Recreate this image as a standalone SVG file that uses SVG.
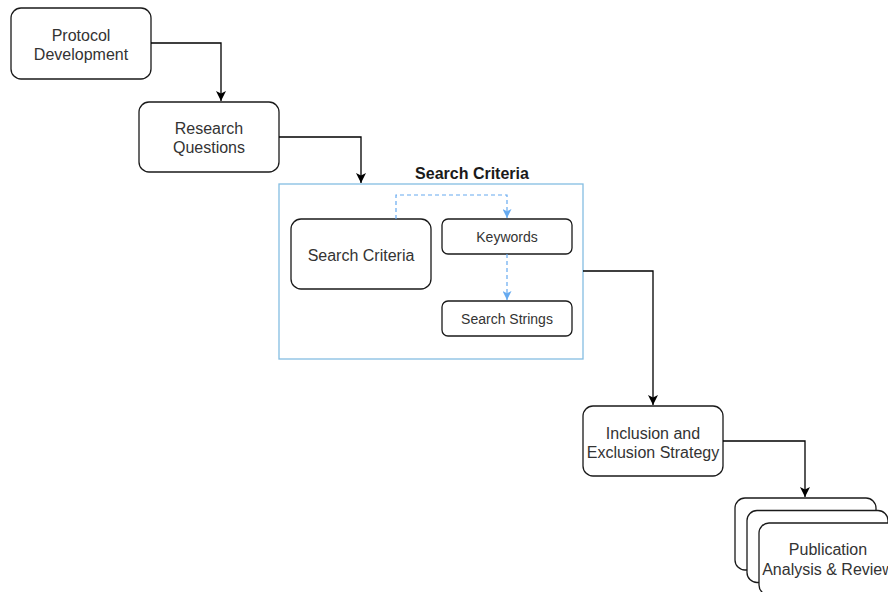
<svg xmlns="http://www.w3.org/2000/svg" width="888" height="592" viewBox="0 0 888 592">
  <style>
    .box { fill: #ffffff; stroke: #1a1a1a; stroke-width: 1.3; }
    .lbl { font-family: "Liberation Sans", Arial, sans-serif; font-size: 16px; fill: #333333; text-anchor: middle; }
    .sm { font-size: 14px; }
    .title { font-family: "Liberation Sans", Arial, sans-serif; font-size: 16px; font-weight: bold; fill: #1a1a1a; text-anchor: middle; }
    .edge { fill: none; stroke: #000000; stroke-width: 1.3; }
    .dash { fill: none; stroke: #66aaf0; stroke-width: 1.2; stroke-dasharray: 4 3; }
  </style>
  <defs>
    <marker id="arrow" viewBox="0 0 10 10" refX="10" refY="5" markerWidth="10" markerHeight="10" markerUnits="userSpaceOnUse" orient="auto">
      <path d="M0,0 L10,5 L0,10 L2.5,5 Z" fill="#000000"/>
    </marker>
    <marker id="arrowBlue" viewBox="0 0 10 10" refX="10" refY="5" markerWidth="9" markerHeight="9" markerUnits="userSpaceOnUse" orient="auto">
      <path d="M0,0 L10,5 L0,10 L2.5,5 Z" fill="#66aaf0"/>
    </marker>
  </defs>

  <rect width="888" height="592" fill="#ffffff"/>

  <!-- container -->
  <g id="search-criteria-group">
    <rect x="279" y="184" width="304" height="175" fill="none" stroke="#84bde2" stroke-width="1.3"/>
    <text class="title" x="472" y="179">Search Criteria</text>
  </g>

  <g id="protocol-development">
    <rect class="box" x="11" y="8" width="140" height="71" rx="10"/>
    <text class="lbl" x="81" y="41">Protocol</text>
    <text class="lbl" x="81" y="59.5">Development</text>
  </g>

  <g id="research-questions">
    <rect class="box" x="139" y="102" width="140" height="70" rx="10"/>
    <text class="lbl" x="209" y="134">Research</text>
    <text class="lbl" x="209" y="152.5">Questions</text>
  </g>

  <g id="search-criteria">
    <rect class="box" x="291" y="219" width="140" height="70" rx="10"/>
    <text class="lbl" x="361" y="261">Search Criteria</text>
  </g>

  <g id="keywords">
    <rect class="box" x="442" y="219" width="130" height="35" rx="6"/>
    <text class="lbl sm" x="507" y="242">Keywords</text>
  </g>

  <g id="search-strings">
    <rect class="box" x="442" y="301" width="130" height="35" rx="6"/>
    <text class="lbl sm" x="507" y="324">Search Strings</text>
  </g>

  <g id="inclusion-exclusion">
    <rect class="box" x="583" y="406" width="140" height="70" rx="10"/>
    <text class="lbl" x="653" y="439">Inclusion and</text>
    <text class="lbl" x="653" y="457.5">Exclusion Strategy</text>
  </g>

  <g id="publication-analysis">
    <rect class="box" x="735" y="498" width="141" height="72" rx="10"/>
    <rect class="box" x="747" y="510.5" width="141" height="72" rx="10"/>
    <rect class="box" x="759" y="523" width="141" height="72" rx="10"/>
    <text class="lbl" x="828" y="555">Publication</text>
    <text class="lbl" x="828" y="574.5">Analysis &amp; Review</text>
  </g>

  <g id="connectors">
    <path class="edge" d="M151,43 H221 V101" marker-end="url(#arrow)"/>
    <path class="edge" d="M279,137 H361 V183" marker-end="url(#arrow)"/>
    <path class="edge" d="M583,271 H653 V405" marker-end="url(#arrow)"/>
    <path class="edge" d="M723,441 H805 V497" marker-end="url(#arrow)"/>
    <path class="dash" d="M396,219 V195 H507 V218" marker-end="url(#arrowBlue)"/>
    <path class="dash" d="M507,254 V300" marker-end="url(#arrowBlue)"/>
  </g>
</svg>
